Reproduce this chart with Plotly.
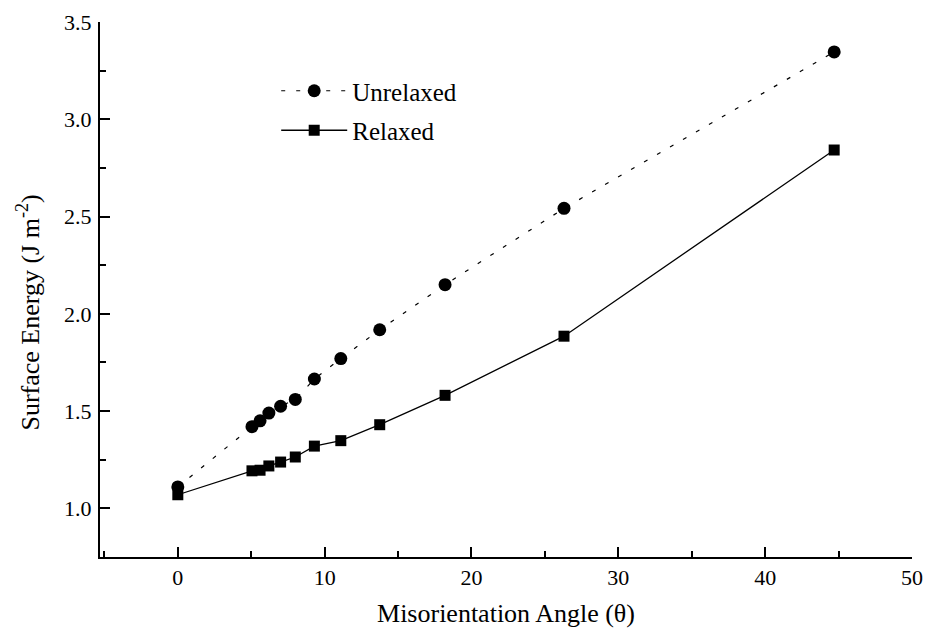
import plotly.graph_objects as go

angle = [0, 5.05, 5.6, 6.2, 7.0, 8.0, 9.3, 11.1, 13.75, 18.2, 26.3, 44.7]
unrelaxed = [1.11, 1.42, 1.45, 1.49, 1.525, 1.56, 1.665, 1.77, 1.918, 2.15, 2.542, 3.346]
relaxed = [1.07, 1.193, 1.196, 1.218, 1.238, 1.264, 1.32, 1.348, 1.43, 1.581, 1.885, 2.842]

x_title = "Misorientation Angle (θ)"
y_title = "Surface Energy (J m<sup>-2</sup>)"

font = "Liberation Serif"

fig = go.Figure()
fig.add_trace(go.Scatter(
    x=angle, y=unrelaxed, name="Unrelaxed", mode="lines+markers", legendgroup="a",
    line=dict(color="black", width=1.2, dash="4px,11px"),
    marker=dict(symbol="circle", size=13, color="black"),
))
fig.add_trace(go.Scatter(
    x=angle, y=relaxed, name="Relaxed", mode="lines+markers", legendgroup="b",
    line=dict(color="black", width=1.3),
    marker=dict(symbol="square", size=11, color="black"),
))

axis_common = dict(
    showline=True, linecolor="black", linewidth=2, mirror=False,
    showgrid=False, zeroline=False, automargin=False,
    ticks="inside", ticklen=10, tickwidth=2, tickcolor="black",
    tickfont=dict(family=font, size=22, color="black"),
)

fig.update_layout(
    width=925, height=631,
    margin=dict(l=100, r=13, t=22, b=74),
    paper_bgcolor="white", plot_bgcolor="white",
    font=dict(family=font, color="black"),
    showlegend=True,
    legend=dict(x=0.217, y=0.914, xanchor="left", yanchor="top",
                bgcolor="rgba(0,0,0,0)", font=dict(family=font, size=25),
                itemwidth=66, tracegroupgap=4),
    xaxis=dict(range=[-5.3, 50], tick0=0, dtick=10,
               minor=dict(ticks="inside", ticklen=6, tickwidth=2, tickcolor="black", dtick=5),
               title=dict(text=x_title, font=dict(family=font, size=26), standoff=14),
               **axis_common),
    yaxis=dict(range=[0.75, 3.5], tick0=1.0, dtick=0.5, tickformat=".1f",
               ticklabelstandoff=2,
               minor=dict(ticks="inside", ticklen=6, tickwidth=2, tickcolor="black", dtick=0.25),
               **axis_common),
    annotations=[dict(
        text=y_title, textangle=-90, showarrow=False,
        xref="paper", yref="paper", x=-0.088, y=0.456,
        xanchor="center", yanchor="middle",
        font=dict(family=font, size=26, color="black"),
    )],
)

fig.write_html("out.html", config={"displayModeBar": False},
               post_script="document.body.style.margin='0';")
